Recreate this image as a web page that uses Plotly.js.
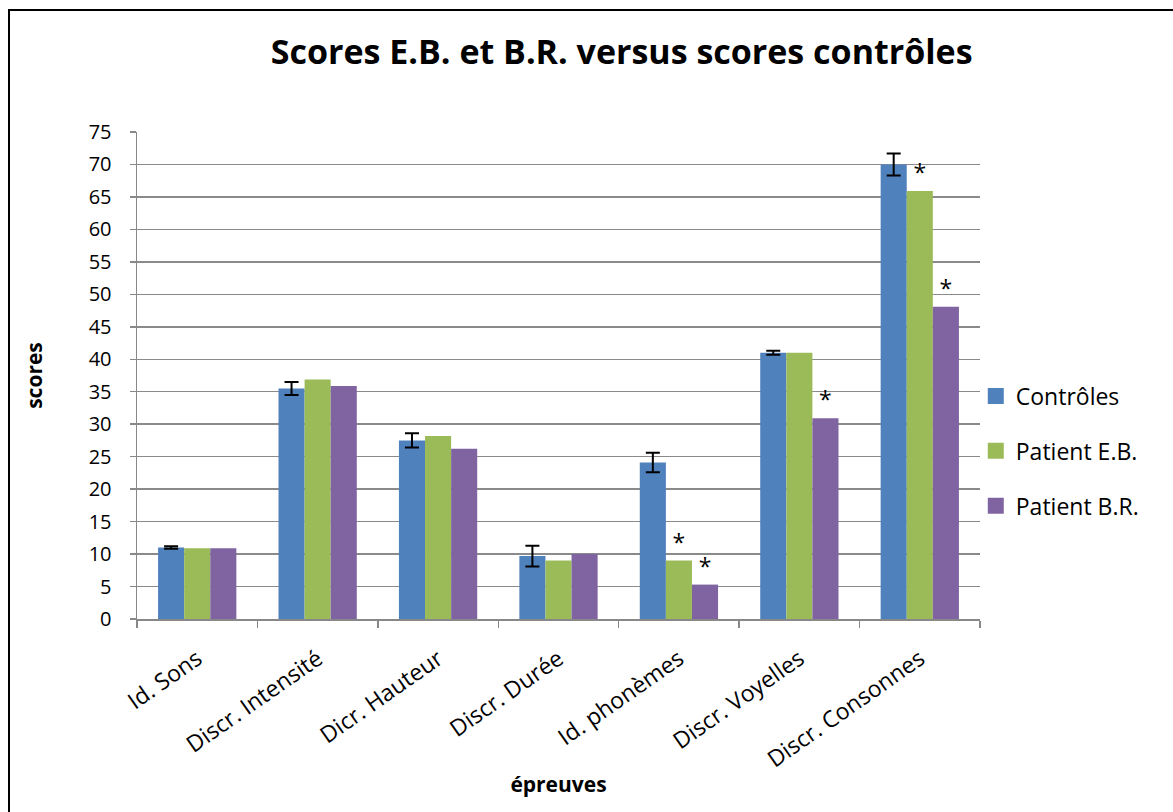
<!DOCTYPE html>
<html><head><meta charset="utf-8">
<script src="https://cdn.plot.ly/plotly-3.0.1.min.js"></script>
<style>
html,body{margin:0;padding:0;overflow:hidden;background:#fff;}
#chart{position:absolute;left:0;top:0;width:1173px;height:812px;}
#frame{position:absolute;left:8px;top:9px;width:1200px;height:850px;border:2px solid #000;pointer-events:none;}
</style></head>
<body>
<div id="chart"></div>
<div id="frame"></div>
<script>
const categories = ["Id. Sons","Discr. Intensité","Dicr. Hauteur","Discr. Durée","Id. phonèmes","Discr. Voyelles","Discr. Consonnes"];
const seriesNames = ["Contrôles","Patient E.B.","Patient B.R."];
const seriesColors = ["#4F81BD","#9BBB59","#8064A2"];
const controles = [11, 35.5, 27.5, 9.7, 24.1, 41.0, 70.0];
const controlesErr = [0.2, 1.0, 1.1, 1.6, 1.5, 0.3, 1.7];
const patientEB = [10.9, 36.9, 28.2, 9.0, 9.0, 41.0, 65.9];
const patientBR = [10.9, 35.9, 26.2, 10.0, 5.3, 30.9, 48.1];
const sigEB = ["", "", "", "", "*", "", "*"];
const sigBR = ["", "", "", "", "*", "*", "*"];
const yTicks = [0,5,10,15,20,25,30,35,40,45,50,55,60,65,70,75];

const txtFont = {family:"Open Sans, DejaVu Sans, sans-serif", size:23, color:"#000"};
const traces = [
  {type:"bar", name:seriesNames[0], x:categories, y:controles, showlegend:false,
   marker:{color:seriesColors[0]},
   error_y:{type:"data", array:controlesErr, visible:true, color:"#000", thickness:2, width:7}},
  {type:"bar", name:seriesNames[1], x:categories, y:patientEB, showlegend:false,
   marker:{color:seriesColors[1]}, text:sigEB, textposition:"outside", textfont:txtFont, cliponaxis:false},
  {type:"bar", name:seriesNames[2], x:categories, y:patientBR, showlegend:false,
   marker:{color:seriesColors[2]}, text:sigBR, textposition:"outside", textfont:txtFont, cliponaxis:false}
];
// legend entries (square swatches)
seriesNames.forEach((n, i) => traces.push({
  type:"scatter", mode:"markers", name:n, x:[categories[0]], y:[null], legendgroup:"g"+i,
  marker:{symbol:"square", size:18, color:seriesColors[i]}, hoverinfo:"skip"
}));

const layout = {
  width:1173, height:812,
  margin:{l:137, r:193, t:132, b:193, pad:0},
  paper_bgcolor:"#fff", plot_bgcolor:"#fff",
  font:{family:"Open Sans, DejaVu Sans, sans-serif", size:18, color:"#000"},
  title:{text:"<b>Scores E.B. et B.R. versus scores contrôles</b>", xref:"container", x:0.53, xanchor:"center",
         yref:"container", y:1-52/812, yanchor:"middle",
         font:{family:"Open Sans, DejaVu Sans, sans-serif", size:34, color:"#000"}},
  barmode:"group", bargap:0.35, bargroupgap:0,
  showlegend:true,
  legend:{x:0.995, xanchor:"left", y:0.345, yanchor:"middle", tracegroupgap:22, itemwidth:30,
          font:{size:23, color:"#000"}, bgcolor:"rgba(0,0,0,0)"},
  xaxis:{type:"category", showline:true, linecolor:"#888", linewidth:1.5,
         ticks:"outside", tickson:"boundaries", ticklen:7, tickcolor:"#888", tickwidth:1.5,
         tickangle:-35, tickfont:{size:23, color:"#000"}, automargin:false, ticklabelstandoff:16,
         title:{text:"<b>épreuves</b>", font:{size:21, color:"#000"}, standoff:4}},
  yaxis:{range:[0,75], tickvals:yTicks, showline:true, linecolor:"#888", linewidth:1.5,
         ticks:"outside", ticklen:6, tickcolor:"#888", tickwidth:1.5, ticklabelstandoff:14,
         showgrid:true, gridcolor:"#8a8a8a", gridwidth:1.5, zeroline:false,
         tickfont:{size:20, color:"#000"}, automargin:false,
         title:{text:"<b>scores</b>", font:{size:21, color:"#000"}, standoff:40}}
};
Plotly.newPlot("chart", traces, layout, {displayModeBar:false, staticPlot:true});
</script>
</body></html>
